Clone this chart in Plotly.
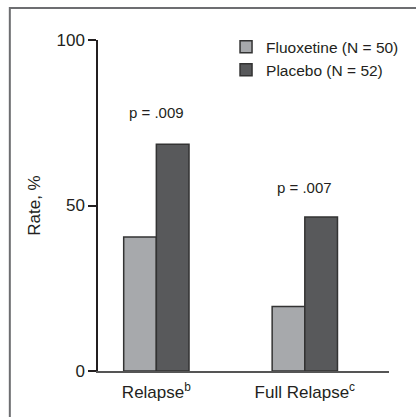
import plotly.graph_objects as go

categories = ["Relapse<sup>b</sup>", "Full Relapse<sup>c</sup>"]
fluoxetine = [40.5, 19.5]
placebo = [68.5, 46.5]
series_names = ["Fluoxetine (N = 50)", "Placebo (N = 52)"]
p_labels = ["p = .009", "p = .007"]
p_label_y = [78, 55.5]
y_ticks = [0, 50, 100]

font_family = "Liberation Sans, Arial, sans-serif"
text_color = "#231f20"

fig = go.Figure()
fig.add_trace(go.Bar(
    x=categories, y=fluoxetine, name=series_names[0],
    marker=dict(color="#a7a9ac", line=dict(color="#333333", width=1.5)),
))
fig.add_trace(go.Bar(
    x=categories, y=placebo, name=series_names[1],
    marker=dict(color="#58595b", line=dict(color="#333333", width=1.5)),
))

for cat, txt, yy in zip(categories, p_labels, p_label_y):
    fig.add_annotation(x=cat, y=yy, text=txt, showarrow=False,
                       xref="x", yref="y", yanchor="middle",
                       font=dict(size=15, color=text_color, family=font_family))

# outer frame
fig.add_shape(type="rect", xref="paper", yref="paper",
              x0=-0.303, x1=1.3, y0=-0.3, y1=1.0967,
              line=dict(color="#6d6e71", width=2), layer="above")

fig.update_layout(
    width=416, height=417,
    margin=dict(l=98, r=24, t=40, b=46),
    paper_bgcolor="white", plot_bgcolor="white",
    barmode="group", bargap=0.56, bargroupgap=0,
    font=dict(family=font_family, size=17, color=text_color),
    showlegend=True,
    legend=dict(x=0.44, y=1.03, xanchor="left", yanchor="top",
                font=dict(size=15.5, color=text_color, family=font_family),
                bgcolor="rgba(0,0,0,0)", tracegroupgap=0, itemclick=False),
    xaxis=dict(range=[-0.393, 1.567], showline=True, linecolor="#555555",
               linewidth=2, ticks="", showgrid=False, zeroline=False,
               ticklabelstandoff=5,
               tickfont=dict(size=17, color=text_color)),
    yaxis=dict(range=[0, 100], tickvals=y_ticks, showline=True,
               linecolor="#231f20", linewidth=1.5, ticks="outside",
               ticklen=8, tickwidth=1.5, tickcolor="#231f20",
               showgrid=False, zeroline=False,
               tickfont=dict(size=17, color=text_color),
               title=dict(text="Rate, %", font=dict(size=17, color=text_color),
                          standoff=12)),
)

fig.write_html("out.html")
